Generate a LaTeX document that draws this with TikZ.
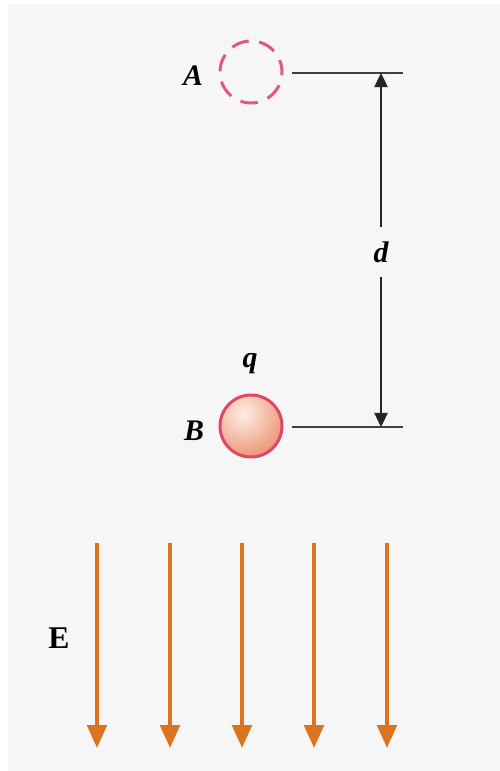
\documentclass[tikz,border=0pt]{standalone}
\usepackage{fontspec}
\setmainfont{Liberation Serif}
\usetikzlibrary{arrows.meta}
\definecolor{bggray}{HTML}{F6F6F6}
\definecolor{pinkred}{HTML}{E0466A}
\definecolor{dashpink}{HTML}{E2577A}
\definecolor{efield}{HTML}{DB7420}
\definecolor{ballin}{HTML}{FDEEE4}
\definecolor{ballout}{HTML}{EC9677}
\begin{document}
\begin{tikzpicture}[x=0.02cm,y=-0.02cm,
  lbl/.style={font=\fontsize{17}{19}\selectfont\bfseries\itshape, inner sep=0pt},
  refline/.style={draw=black!75, line width=1.1pt},
  dimarrow/.style={draw=black!85, line width=1.1pt, -{Triangle[length=8pt,width=7.5pt]}},
  fieldarrow/.style={draw=efield, line width=2.3pt, -{Triangle[length=13pt,width=11pt]}},
  chargecircle/.style={circle, minimum size=1.24cm, inner sep=0pt, line width=1.7pt}
]
\useasboundingbox (0,0) rectangle (500,771);
\fill[white] (0,0) rectangle (500,771);
\fill[bggray] (8,4) rectangle (500,771);

% position A (dashed)
\node[chargecircle, draw=dashpink, dash pattern=on 10pt off 6pt, dash phase=3pt] (A) at (251,72) {};
\node[lbl] (Alabel) at (193,76) {A};

% charge at B
\begin{scope}
  \clip (251,426) circle (31);
  \shade[inner color=ballin, outer color=ballout] (243,414) circle (44);
\end{scope}
\node[chargecircle, draw=pinkred] (B) at (251,426) {};
\node[lbl] (Blabel) at (194,431) {B};
\node[lbl] (q) at (250,364) {q};

% reference lines
\coordinate (la1) at (292,73);
\coordinate (la2) at (403,73);
\coordinate (lb1) at (292,427);
\coordinate (lb2) at (403,427);
\draw[refline] (la1) -- (la2);
\draw[refline] (lb1) -- (lb2);

% distance d
\coordinate (dt) at (381,73);
\coordinate (db) at (381,427);
\node[lbl, minimum height=1cm] (d) at (381,252) {d};
\draw[dimarrow] (d.north) -- (dt);
\draw[dimarrow] (d.south) -- (db);

% field E
\node[font=\fontsize{18}{20}\selectfont\bfseries, inner sep=0pt] (E) at (59,638) {E};
\foreach \i/\x in {1/97,2/170,3/242,4/314,5/387}{
  \coordinate (et\i) at (\x,543);
  \coordinate (eb\i) at (\x,748);
  \draw[fieldarrow] (et\i) -- (eb\i);
}
\end{tikzpicture}
\end{document}
